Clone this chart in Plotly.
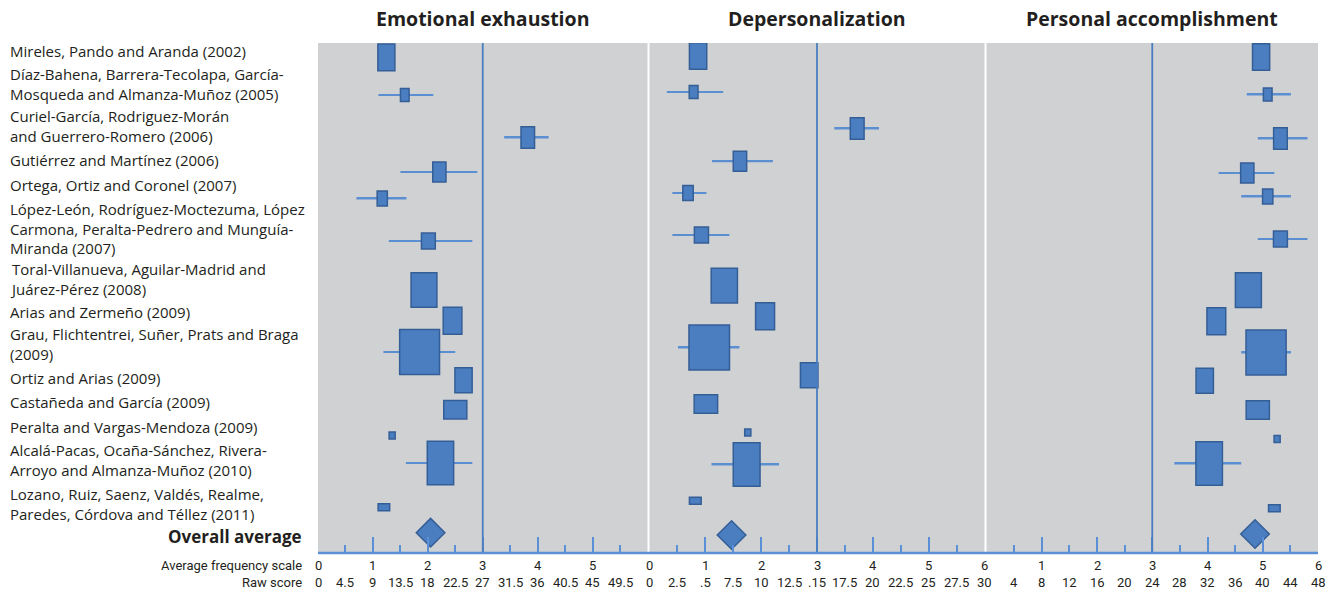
import plotly.graph_objects as go

# ---------------- data ----------------
studies = [
    "Mireles, Pando and Aranda (2002)",
    "Díaz-Bahena, Barrera-Tecolapa, García-<br>Mosqueda and Almanza-Muñoz (2005)",
    "Curiel-García, Rodriguez-Morán<br>and Guerrero-Romero (2006)",
    "Gutiérrez and Martínez (2006)",
    "Ortega, Ortiz and Coronel (2007)",
    "López-León, Rodríguez-Moctezuma, López<br>Carmona, Peralta-Pedrero and Munguía-<br>Miranda (2007)",
    "Toral-Villanueva, Aguilar-Madrid and<br>Juárez-Pérez (2008)",
    "Arias and Zermeño (2009)",
    "Grau, Flichtentrei, Suñer, Prats and Braga<br>(2009)",
    "Ortiz and Arias (2009)",
    "Castañeda and García (2009)",
    "Peralta and Vargas-Mendoza (2009)",
    "Alcalá-Pacas, Ocaña-Sánchez, Rivera-<br>Arroyo and Almanza-Muñoz (2010)",
    "Lozano, Ruiz, Saenz, Valdés, Realme,<br>Paredes, Córdova and Téllez (2011)",
]
panel_titles = ["Emotional exhaustion", "Depersonalization", "Personal accomplishment"]

# study means on the average frequency scale (0-6)
ee_mean = [1.245, 1.58, 3.82, 2.21, 1.17, 2.01, 1.93, 2.45, 1.85, 2.65, 2.50, 1.35, 2.23, 1.20]
dp_mean = [0.87, 0.79, 3.72, 1.62, 0.69, 0.93, 1.34, 2.07, 1.07, 2.86, 1.01, 1.76, 1.74, 0.82]
pa_mean = [4.97, 5.09, 5.32, 4.72, 5.09, 5.32, 4.74, 4.16, 5.06, 3.95, 4.91, 5.26, 4.03, 5.21]

# interval limits (None = not shown)
ee_lo = [None, 1.10, 3.39, 1.50, 0.70, 1.29, None, None, 1.19, None, None, None, 1.60, None]
ee_hi = [None, 2.10, 4.20, 2.90, 1.61, 2.81, None, None, 2.50, None, None, None, 2.81, None]
dp_lo = [None, 0.31, 3.31, 1.12, 0.41, 0.41, None, None, 0.51, None, None, None, 1.11, None]
dp_hi = [None, 1.32, 4.11, 2.21, 1.02, 1.43, None, None, 1.61, None, None, None, 2.32, None]
pa_lo = [None, 4.71, 4.91, 4.20, 4.61, 4.91, None, None, 4.61, None, None, None, 3.40, None]
pa_hi = [None, 5.51, 5.81, 5.21, 5.51, 5.81, None, None, 5.51, None, None, None, 4.61, None]

overall = [2.05, 1.47, 4.86]

# box dimensions (width on frequency scale, height in row units)
box_w = [0.31, 0.157, 0.247, 0.24, 0.186, 0.252, 0.47, 0.34, 0.726, 0.314, 0.42, 0.11, 0.48, 0.21]
box_h = [26.7, 13, 21.7, 20, 15, 16, 34.7, 27, 45, 25, 18.5, 7, 43.5, 7]

# vertical position of each study row in every panel (row units from top)
ee_row = [14.3, 52, 94.5, 129, 155.5, 198, 247, 277.7, 309, 337.2, 366.7, 392.5, 420, 464.2]
dp_row = [13, 49, 85.5, 118.3, 150, 192, 242.7, 273.2, 304.5, 332.2, 361, 389.5, 421.5, 457.7]
pa_row = [14, 51.5, 95.5, 130, 153.5, 196, 247.2, 278.2, 309.5, 337.7, 367, 396, 420.5, 465.2]
overall_row = [489.7, 492, 491]

# axis tick labels
ee_freq = ["0", "1", "2", "3", "4", "5"]
dp_freq = ["0", "1", "2", "3", "4", "5", "6"]
pa_freq = ["1", "2", "3", "4", "5", "6"]
ee_freq_pos = [0, 1, 2, 3, 4, 5]
dp_freq_pos = [0, 1, 2, 3, 4, 5, 6]
pa_freq_pos = [1, 2, 3, 4, 5, 6]
ee_raw = ["0", "4.5", "9", "13.5", "18", "22.5", "27", "31.5", "36", "40.5", "45", "49.5"]
dp_raw = ["0", "2.5", ".5", "7.5", "10", "12.5", ".15", "17.5", "20", "22.5", "25", "27.5", "30"]
pa_raw = ["4", "8", "12", "16", "20", "24", "28", "32", "36", "40", "44", "48"]
ee_raw_pos = [0, 0.5, 1, 1.5, 2, 2.5, 3, 3.5, 4, 4.5, 5, 5.5]
dp_raw_pos = [0, 0.5, 1, 1.5, 2, 2.5, 3, 3.5, 4, 4.5, 5, 5.5, 6]
pa_raw_pos = [0.5, 1, 1.5, 2, 2.5, 3, 3.5, 4, 4.5, 5, 5.5, 6]

# label row centres (row units from top)
label_row = [7.5, 41, 83, 116.5, 141.5, 185, 235.5, 268.5, 301, 335, 359, 384, 417, 460.5]

# ---------------- styles ----------------
FONT = "Roboto"
LABEL_FONT = "Open Sans"
BOLD_FONT = "Open Sans"
TXT = "#231f20"
GRAY = "#d0d1d3"
BOX = "#4a7ec1"
BOX_EDGE = "#345e96"
WHISK = "#5b8fd2"
AXIS = "#5b8fd6"

fig = go.Figure()

panels = [
    ("x", ee_mean, ee_lo, ee_hi, ee_row),
    ("x2", dp_mean, dp_lo, dp_hi, dp_row),
    ("x3", pa_mean, pa_lo, pa_hi, pa_row),
]

for i, (xa, mean, lo, hi, row) in enumerate(panels):
    # whiskers (drawn first, beneath the boxes)
    w_base, w_len, w_y = [], [], []
    for l, h, r in zip(lo, hi, row):
        if l is not None and h is not None:
            w_base.append(l)
            w_len.append(h - l)
            w_y.append(r)
    fig.add_trace(go.Bar(
        orientation="h", x=w_len, base=w_base, y=w_y, width=[1.8] * len(w_y),
        marker=dict(color=WHISK, line=dict(width=0)),
        xaxis=xa, yaxis="y", showlegend=False, hoverinfo="skip",
    ))
    # boxes
    fig.add_trace(go.Bar(
        orientation="h", x=box_w, base=[m - w / 2 for m, w in zip(mean, box_w)],
        y=row, width=box_h,
        marker=dict(color=BOX, line=dict(color=BOX_EDGE, width=1.5)),
        xaxis=xa, yaxis="y", showlegend=False,
    ))
    # overall average diamond
    fig.add_trace(go.Scatter(
        x=[overall[i]], y=[overall_row[i]], mode="markers",
        marker=dict(symbol="diamond", size=22, color=BOX,
                    line=dict(color=BOX_EDGE, width=1.5)),
        xaxis=xa, yaxis="y", showlegend=False,
    ))

domains = [[0.0, 0.3295], [0.3315, 0.6665], [0.6685, 1.0]]
axis_common = dict(
    range=[0, 6], showgrid=False, zeroline=False, showline=False,
    ticks="inside", ticklen=16, tickwidth=1.5, tickcolor=AXIS,
    tick0=0, dtick=1, showticklabels=False, fixedrange=True,
    minor=dict(dtick=0.5, ticks="inside", ticklen=8, tickwidth=1.5, tickcolor=AXIS),
)
fig.update_layout(
    xaxis=dict(domain=domains[0], anchor="y", **axis_common),
    xaxis2=dict(domain=domains[1], anchor="y", **axis_common),
    xaxis3=dict(domain=domains[2], anchor="y", **axis_common),
    yaxis=dict(range=[510, 0], domain=[0, 1], anchor="x", visible=False, fixedrange=True),
)

shapes = []
for xa in ["x", "x2", "x3"]:
    shapes.append(dict(type="line", xref=xa, yref="paper", x0=3, x1=3, y0=0, y1=1,
                       line=dict(color=BOX, width=1.8), layer="above"))
shapes.append(dict(type="line", xref="paper", yref="paper", x0=0, x1=1, y0=0, y1=0,
                   line=dict(color=AXIS, width=2.5), layer="above"))

annotations = []
# panel titles
for xa, t in zip(["x", "x2", "x3"], panel_titles):
    annotations.append(dict(text="<b>" + t + "</b>", xref=xa, yref="paper", x=3, y=1,
                            yshift=25, xanchor="center", yanchor="middle", showarrow=False,
                            font=dict(family=BOLD_FONT, size=19.5, color=TXT)))
# study labels
for lab, ly in zip(studies, label_row):
    annotations.append(dict(text=lab, xref="paper", yref="y", x=-0.310, y=ly,
                            xanchor="left", yanchor="middle", align="left", showarrow=False,
                            font=dict(family=LABEL_FONT, size=15, color=TXT)))
annotations.append(dict(text="<b>Overall average</b>", xref="paper", yref="y", x=-0.014, y=493,
                        xanchor="right", yanchor="middle", showarrow=False,
                        font=dict(family=BOLD_FONT, size=17, color=TXT)))
# axis label captions
annotations.append(dict(text="Average frequency scale", xref="paper", yref="paper", x=-0.014, y=0,
                        yshift=-12, xanchor="right", yanchor="middle", showarrow=False,
                        font=dict(family=FONT, size=13, color=TXT)))
annotations.append(dict(text="Raw score", xref="paper", yref="paper", x=-0.014, y=0,
                        yshift=-29, xanchor="right", yanchor="middle", showarrow=False,
                        font=dict(family=FONT, size=13, color=TXT)))
for xa, fl, fp, rl, rp in [
    ("x", ee_freq, ee_freq_pos, ee_raw, ee_raw_pos),
    ("x2", dp_freq, dp_freq_pos, dp_raw, dp_raw_pos),
    ("x3", pa_freq, pa_freq_pos, pa_raw, pa_raw_pos),
]:
    for t, p in zip(fl, fp):
        annotations.append(dict(text=t, xref=xa, yref="paper", x=p, y=0, yshift=-12,
                                xanchor="center", yanchor="middle", showarrow=False,
                                font=dict(family=FONT, size=13, color=TXT)))
    for t, p in zip(rl, rp):
        annotations.append(dict(text=t, xref=xa, yref="paper", x=p, y=0, yshift=-29,
                                xanchor="center", yanchor="middle", showarrow=False,
                                font=dict(family=FONT, size=13, color=TXT)))

fig.update_layout(
    width=1329, height=591,
    margin=dict(l=318, r=11, t=43, b=38),
    paper_bgcolor="white", plot_bgcolor=GRAY,
    barmode="overlay", showlegend=False,
    shapes=shapes, annotations=annotations,
    font=dict(family=FONT, color=TXT),
)

fig.write_html("out.html", config={"displayModeBar": False},
               post_script="document.body.style.margin='0';document.body.style.overflow='hidden';")
